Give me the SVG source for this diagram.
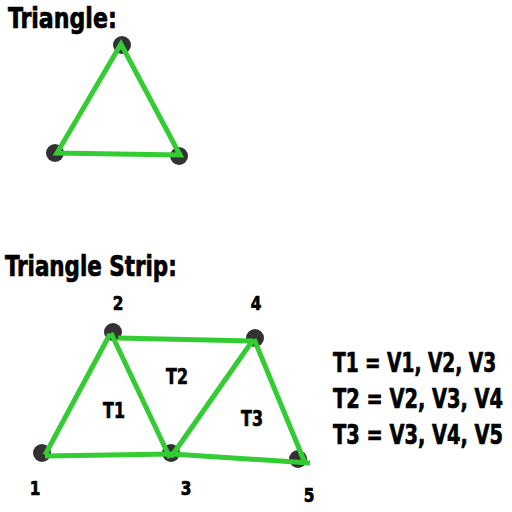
<svg xmlns="http://www.w3.org/2000/svg" width="512" height="512" viewBox="0 0 512 512">
<style>
.t{font-family:"DejaVu Sans Condensed","DejaVu Sans","Liberation Sans",sans-serif;font-weight:bold;fill:#000;stroke:#000;stroke-width:0.7}
.n{font-size:20px}
.dot{fill:#333}
.e{stroke:#33cc33;stroke-width:5;fill:none;stroke-linecap:butt}
</style>
<defs><filter id="b" x="-50%" y="-50%" width="200%" height="200%"><feGaussianBlur stdDeviation="0.7"/></filter></defs>
<rect width="512" height="512" fill="#fff"/>
<text class="t" transform="translate(8,28) scale(0.75,1)" font-size="29" textLength="145" lengthAdjust="spacingAndGlyphs">Triangle:</text>
<text class="t" transform="translate(5,276) scale(0.75,1)" font-size="28" textLength="229" lengthAdjust="spacingAndGlyphs">Triangle Strip:</text>
<g id="triangle-vertices" filter="url(#b)">
<circle class="dot" cx="122" cy="45" r="9"/>
<circle class="dot" cx="55" cy="153" r="9"/>
<circle class="dot" cx="179" cy="156" r="9"/>
</g>
<g id="triangle-edges">
<polygon class="e" points="121,44 57,153 180,155"/>
</g>
<g id="v1" filter="url(#b)"><circle class="dot" cx="42" cy="453" r="9"/></g>
<g id="v2" filter="url(#b)"><circle class="dot" cx="113" cy="332" r="9"/></g>
<g id="v3" filter="url(#b)"><circle class="dot" cx="171" cy="453" r="9"/></g>
<g id="v4" filter="url(#b)"><circle class="dot" cx="255" cy="338" r="9"/></g>
<g id="v5" filter="url(#b)"><circle class="dot" cx="298" cy="459" r="9"/></g>
<g id="connectors">
<line class="e" x1="45" y1="455" x2="110" y2="334"/>
<line class="e" x1="111" y1="333" x2="170" y2="458"/>
<line class="e" x1="118" y1="338" x2="253" y2="341"/>
<line class="e" x1="171" y1="457" x2="253" y2="340"/>
<line class="e" x1="254" y1="339" x2="305" y2="463"/>
<line class="e" x1="45" y1="456" x2="172" y2="454"/>
<line class="e" x1="172" y1="454" x2="310" y2="463"/>
</g>
<g id="labels">
<text class="t n" transform="translate(118,310) scale(0.85,1)" text-anchor="middle">2</text>
<text class="t n" transform="translate(256,310) scale(0.85,1)" text-anchor="middle">4</text>
<text class="t n" transform="translate(35,495) scale(0.85,1)" text-anchor="middle">1</text>
<text class="t n" transform="translate(186,495) scale(0.85,1)" text-anchor="middle">3</text>
<text class="t n" transform="translate(309,502) scale(0.85,1)" text-anchor="middle">5</text>
<text class="t" transform="translate(114,418) scale(0.8,1)" font-size="22" text-anchor="middle">T1</text>
<text class="t" transform="translate(177,384) scale(0.8,1)" font-size="22" text-anchor="middle">T2</text>
<text class="t" transform="translate(252,426) scale(0.8,1)" font-size="22" text-anchor="middle">T3</text>
</g>
<g id="legend">
<text class="t" transform="translate(333,372) scale(0.7,1)" font-size="27" textLength="233" lengthAdjust="spacingAndGlyphs">T1 = V1, V2, V3</text>
<text class="t" transform="translate(333,408) scale(0.7,1)" font-size="27" textLength="243" lengthAdjust="spacingAndGlyphs">T2 = V2, V3, V4</text>
<text class="t" transform="translate(333,444) scale(0.7,1)" font-size="27" textLength="243" lengthAdjust="spacingAndGlyphs">T3 = V3, V4, V5</text>
</g>
</svg>
